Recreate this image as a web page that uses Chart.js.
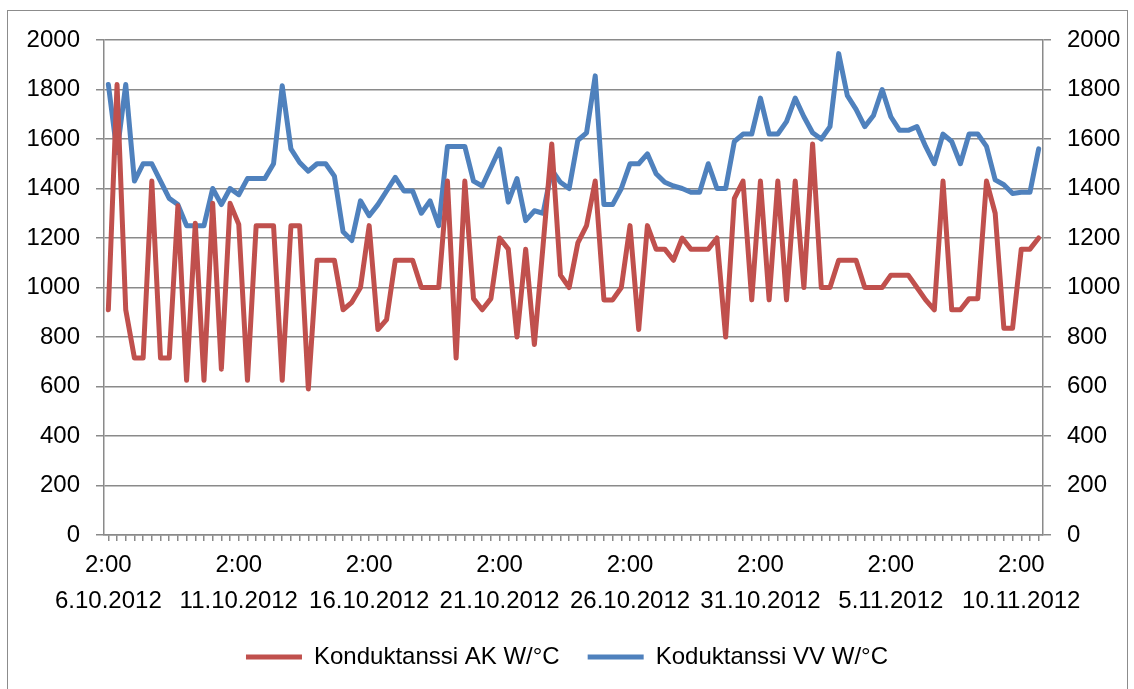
<!DOCTYPE html>
<html>
<head>
<meta charset="utf-8">
<script src="https://cdn.jsdelivr.net/npm/chart.js@4.4.0/dist/chart.umd.min.js"></script>
<style>
    body { margin: 0; background: #fff; }
    #wrap { position: relative; width: 1134px; height: 689px; overflow: hidden; }
    #frame { position: absolute; left: 7px; top: 10px; width: 1119px; height: 700px; border: 1px solid #8c8c8c; }
    #chart { position: absolute; left: 0; top: 0; }
</style>
</head>
<body>
<div id="wrap">
    <div id="frame"></div>
    <canvas id="chart" width="1134" height="689"></canvas>
</div>
<script>
// one reading every 8 hours, a date label every 15th reading
const tickTime = '2:00';
const tickDates = ['6.10.2012', '11.10.2012', '16.10.2012', '21.10.2012',
                   '26.10.2012', '31.10.2012', '5.11.2012', '10.11.2012'];
const labelEvery = 15;

// Konduktanssi AK W/°C
const akValues = [
    910, 1820, 910, 715, 715, 1430, 715, 715, 1330, 625,
    1260, 625, 1340, 670, 1340, 1255, 625, 1250, 1250, 1250,
    625, 1250, 1250, 590, 1110, 1110, 1110, 910, 940, 1000,
    1250, 830, 870, 1110, 1110, 1110, 1000, 1000, 1000, 1430,
    715, 1430, 955, 910, 955, 1200, 1155, 800, 1155, 770,
    1170, 1580, 1050, 1000, 1180, 1250, 1430, 950, 950, 1000,
    1250, 830, 1250, 1155, 1155, 1110, 1200, 1155, 1155, 1155,
    1200, 800, 1360, 1430, 950, 1430, 950, 1430, 950, 1430,
    1000, 1580, 1000, 1000, 1110, 1110, 1110, 1000, 1000, 1000,
    1050, 1050, 1050, 1000, 950, 910, 1430, 910, 910, 955,
    955, 1430, 1300, 835, 835, 1155, 1155, 1200
];

// Koduktanssi VV W/°C
const vvValues = [
    1820, 1545, 1820, 1430, 1500, 1500, 1430, 1360, 1335, 1250,
    1250, 1250, 1400, 1335, 1400, 1375, 1440, 1440, 1440, 1500,
    1815, 1560, 1505, 1470, 1500, 1500, 1450, 1225, 1190, 1350,
    1290, 1335, 1390, 1445, 1390, 1390, 1300, 1350, 1250, 1570,
    1570, 1570, 1430, 1410, 1485, 1560, 1345, 1440, 1270, 1310,
    1300, 1475, 1425, 1400, 1595, 1625, 1855, 1335, 1335, 1400,
    1500, 1500, 1540, 1460, 1425, 1410, 1400, 1385, 1385, 1500,
    1400, 1400, 1590, 1620, 1620, 1765, 1620, 1620, 1670, 1765,
    1690, 1625, 1600, 1650, 1945, 1775, 1720, 1650, 1695, 1800,
    1690, 1635, 1635, 1650, 1570, 1500, 1620, 1590, 1500, 1620,
    1620, 1570, 1435, 1415, 1380, 1385, 1385, 1560
];

const categories = akValues.map(function(v, i) {
    return i % labelEvery === 0 ? [tickTime, tickDates[i / labelEvery]] : '';
});

const font = { family: "'Liberation Sans', Arial, sans-serif", size: 24 };
const axisGray = '#8a8a8a';

function yAxis(position, width, onChart) {
    return {
        position: position,
        min: 0,
        max: 2000,
        ticks: {
            stepSize: 200,
            font: font,
            color: '#000',
            padding: 16,
            callback: function(value) { return String(value); }
        },
        grid: { color: axisGray, lineWidth: 1.5, drawOnChartArea: onChart, tickLength: 8 },
        border: { color: axisGray, width: 1.5 },
        afterFit: function(scale) { scale.width = width; }
    };
}

function series(label, values, color, axis) {
    return {
        label: label,
        data: values,
        borderColor: color,
        backgroundColor: color,
        borderWidth: 5,
        borderJoinStyle: 'round',
        borderCapStyle: 'round',
        pointRadius: 0,
        tension: 0,
        yAxisID: axis
    };
}

new Chart(document.getElementById('chart').getContext('2d'), {
    type: 'line',
    data: {
        labels: categories,
        datasets: [
            series('Konduktanssi AK W/°C', akValues, '#C0504D', 'y'),
            series('Koduktanssi VV W/°C', vvValues, '#4F81BD', 'y2')
        ]
    },
    options: {
        responsive: false,
        animation: false,
        layout: { padding: { top: 40, bottom: 10, left: 0, right: 0 } },
        scales: {
            x: {
                offset: true,
                ticks: {
                    autoSkip: false,
                    maxRotation: 0,
                    font: Object.assign({ lineHeight: 1.5 }, font),
                    color: '#000',
                    padding: 6
                },
                grid: { drawOnChartArea: false, color: axisGray, lineWidth: 1.5, tickLength: 6 },
                border: { color: axisGray, width: 1.5 },
                afterFit: function(scale) { scale.height = 82; }
            },
            y: yAxis('left', 104, true),
            y2: yAxis('right', 91, false)
        },
        plugins: {
            legend: {
                position: 'bottom',
                labels: {
                    font: font,
                    color: '#000',
                    boxWidth: 56,
                    boxHeight: 5,
                    padding: 28,
                    generateLabels: function(chart) {
                        return Chart.defaults.plugins.legend.labels.generateLabels(chart).map(function(item) {
                            item.lineWidth = 0;
                            return item;
                        });
                    }
                }
            },
            tooltip: { enabled: false }
        }
    }
});
</script>
</body>
</html>
